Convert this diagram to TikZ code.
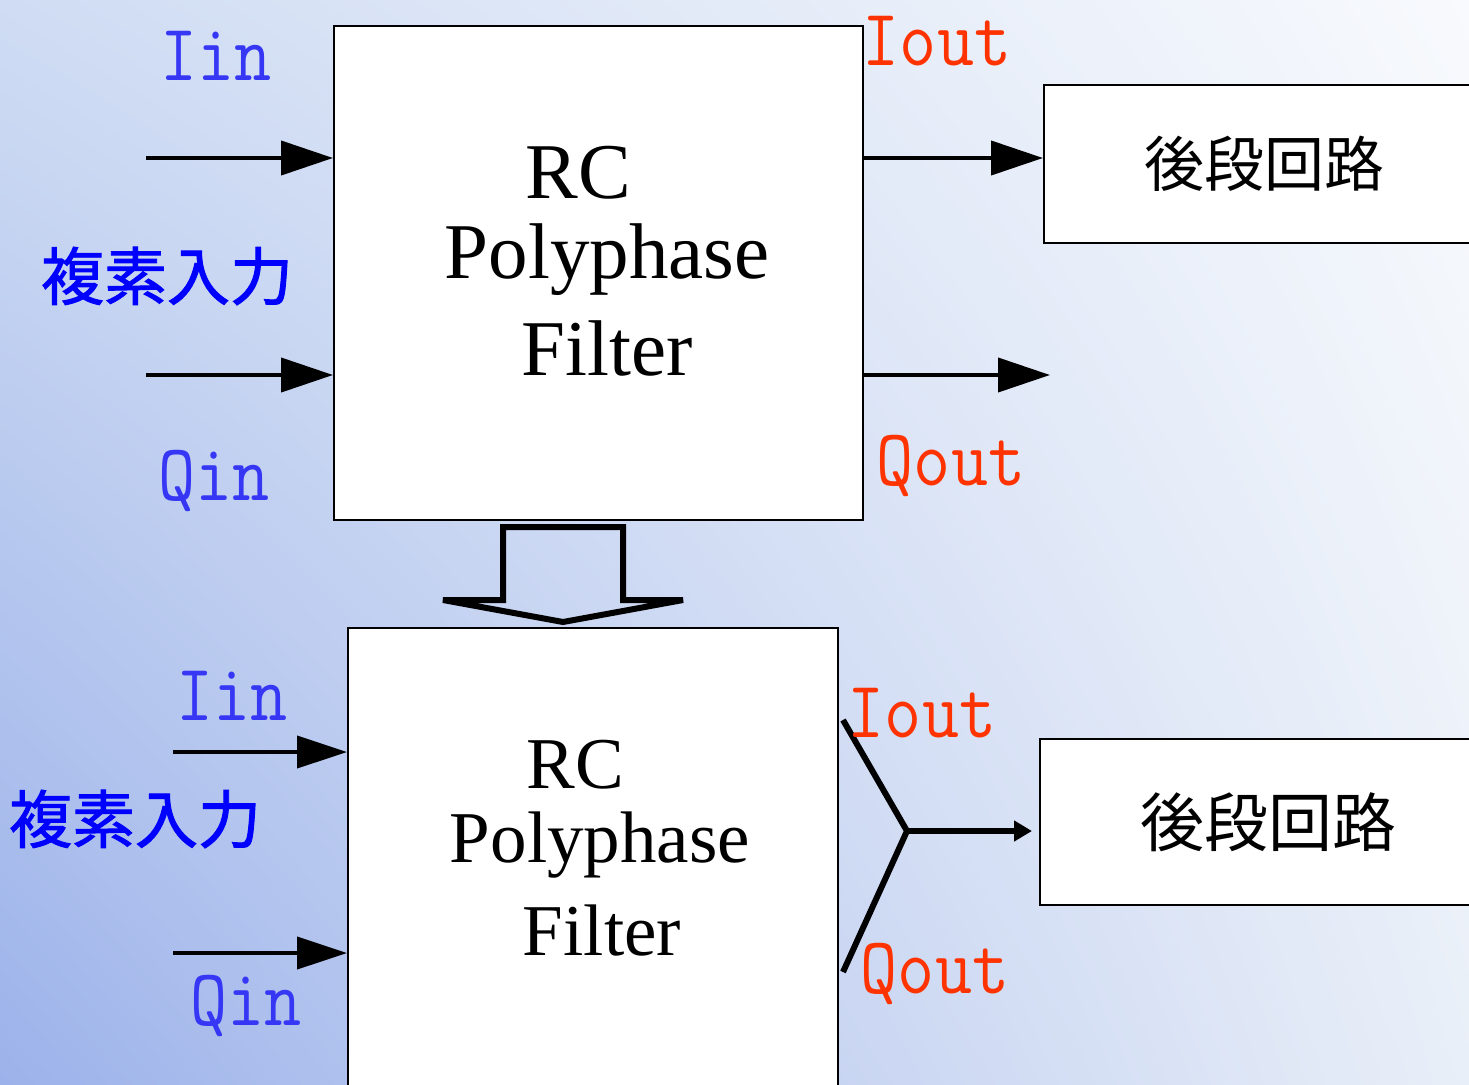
\documentclass[tikz,border=0pt]{standalone}
\usepackage{fontspec}
\setmainfont{Liberation Serif}
\newfontfamily\cjk{Noto Sans CJK JP}
\newfontfamily\cjkm[FakeBold=1.5]{Noto Sans CJK JP}
\usetikzlibrary{arrows.meta,shadings}
\definecolor{bgUL}{HTML}{CFDCF3}
\definecolor{bgUR}{HTML}{F8FAFD}
\definecolor{bgLL}{HTML}{9CB2EA}
\definecolor{bgLR}{HTML}{E9EFF8}
\definecolor{lblue}{HTML}{3636F5}
\definecolor{jblue}{HTML}{0000FF}
\definecolor{ored}{HTML}{FF3300}
\tikzset{
  box/.style={draw=black, line width=2pt, fill=white, inner sep=0pt},
  rcbig/.style={font=\fontsize{79}{88}\selectfont, anchor=base, inner sep=0pt},
  rcsmall/.style={font=\fontsize{73}{80}\selectfont, anchor=base, inner sep=0pt},
  monolbl/.style={font=\ttfamily\fontsize{72}{80}\selectfont, anchor=base, inner sep=0pt},
  inlbl/.style={monolbl, text=lblue},
  outlbl/.style={monolbl, text=ored},
  jplbl/.style={font=\cjk\fontsize{60}{66}\selectfont, inner sep=0pt},
  jpin/.style={font=\cjkm\fontsize{63}{68}\selectfont, inner sep=0pt, text=jblue},
  bigarrow/.style={line width=4pt, -{Triangle[length=52pt, width=34pt]}},
  midarrow/.style={line width=4pt, -{Triangle[length=50pt, width=32pt]}},
  yline/.style={line width=6pt},
  smallarrow/.style={line width=6pt, -{Triangle[length=18pt, width=20pt]}},
  hollow/.style={line width=6pt, draw=black, line join=miter}
}
\newcommand{\tallm}[1]{\scalebox{1}[1.12]{#1}}
\begin{document}
\begin{tikzpicture}[x=1pt, y=-1pt]
\useasboundingbox (0,0) rectangle (1469,1084);
\clip (0,0) rectangle (1469,1084);
\shade[upper left=bgUL, upper right=bgUR, lower left=bgLL, lower right=bgLR] (0,0) rectangle (1469,1084);

% ---------- upper diagram ----------
\node[box, minimum width=529pt, minimum height=494pt] (pf1) at (598.5,273) {};
\node[rcbig] (rc1) at (578,198) {RC};
\node[rcbig] (poly1) at (607,278) {Polyphase};
\node[rcbig] (filt1) at (607,375) {Filter};

\node[box, minimum width=440pt, minimum height=158pt, jplbl] (post1) at (1264,164) {後段回路};

\coordinate (iin1) at (146,158);
\coordinate (qin1) at (146,375);
\coordinate (iout1) at (863,158);
\coordinate (qend1) at (1050,375);
\draw[bigarrow] (iin1) -- (pf1.west |- iin1);
\draw[bigarrow] (qin1) -- (pf1.west |- qin1);
\draw[bigarrow] (iout1) -- (post1.west |- iout1);
\draw[bigarrow] (pf1.east |- qend1) -- (qend1);

\node[inlbl] (liin1) at (216,80) {\tallm{Iin}};
\node[inlbl] (lqin1) at (214,500) {\tallm{Qin}};
\node[jpin] (lcx1) at (167,276) {複素入力};
\node[outlbl] (liout1) at (937,65) {\tallm{Iout}};
\node[outlbl] (lqout1) at (951,485) {\tallm{Qout}};

% ---------- hollow arrow ----------
\draw[hollow] (443,600) -- (503,600) -- (503,527) -- (623,527) -- (623,600) -- (683,600) -- (563,622) -- cycle;

% ---------- lower diagram ----------
\node[box, minimum width=490pt, minimum height=480pt] (pf2) at (593,868) {};
\node[rcsmall] (rc2) at (575,788) {RC};
\node[rcsmall] (poly2) at (600,862) {Polyphase};
\node[rcsmall] (filt2) at (602,955) {Filter};

\node[box, minimum width=456pt, minimum height=166pt, jplbl, font=\cjk\fontsize{64}{70}\selectfont] (post2) at (1268,822) {後段回路};

\coordinate (iin2) at (173,752);
\coordinate (qin2) at (173,953);
\draw[midarrow] (iin2) -- (pf2.west |- iin2);
\draw[midarrow] (qin2) -- (pf2.west |- qin2);

\coordinate (yI) at (843,720);
\coordinate (yJ) at (907,831);
\coordinate (yQ) at (843,972);
\draw[yline] (yI) -- (yJ) -- (yQ);
\draw[smallarrow, shorten >=7pt] (yJ) -- (post2.west |- yJ);

\node[inlbl] (liin2) at (232,720) {\tallm{Iin}};
\node[inlbl] (lqin2) at (246,1025) {\tallm{Qin}};
\node[jpin] (lcx2) at (135,819) {複素入力};
\node[outlbl] (liout2) at (922,737) {\tallm{Iout}};
\node[outlbl] (lqout2) at (935,993) {\tallm{Qout}};
\end{tikzpicture}
\end{document}
